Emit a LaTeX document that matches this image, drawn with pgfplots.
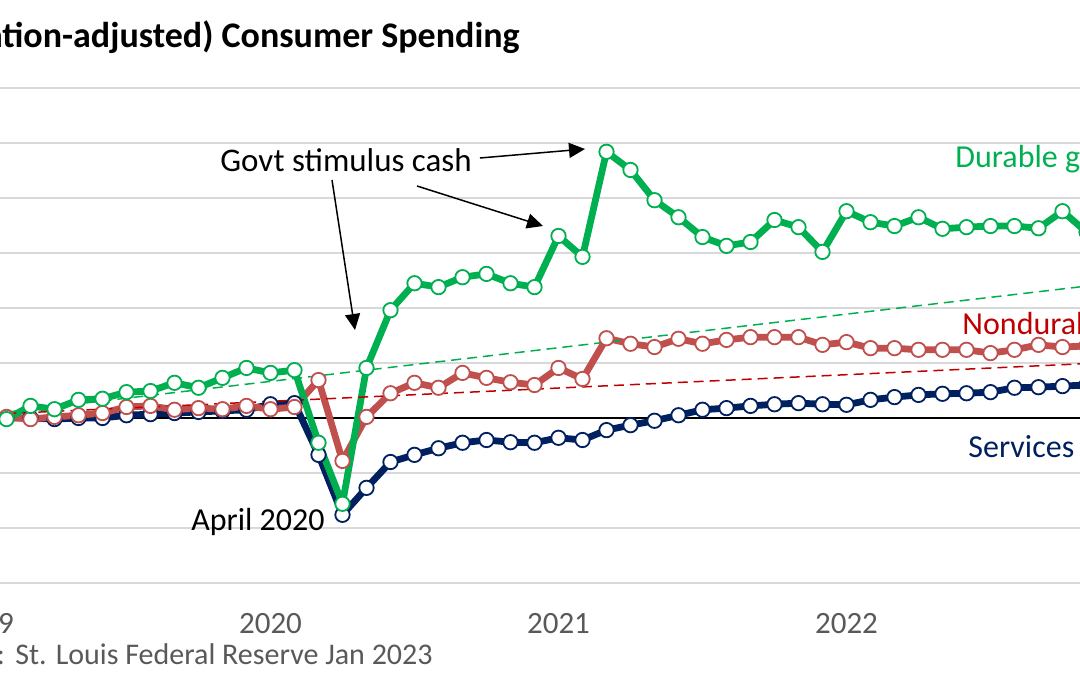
\documentclass[border=0pt]{standalone}
\usepackage{fontspec}
\setmainfont{Carlito}
\usepackage{pgfplots}
\pgfplotsset{compat=1.18}
\usepackage{pgfplotstable}
\usetikzlibrary{arrows.meta}
\definecolor{dgreen}{HTML}{00B050}
\definecolor{nred}{HTML}{C0504D}
\definecolor{dred}{HTML}{C00000}
\definecolor{navy}{HTML}{002060}
\definecolor{tickgray}{HTML}{595959}
\definecolor{gridgray}{HTML}{D9D9D9}

\pgfplotstableread{
m dur nond serv
-12 100.0 100.0 100.0
-11 99.8 100.2 100.0
-10 102.2 99.8 100.0
-9 101.6 100.2 99.8
-8 103.3 100.5 100.0
-7 103.5 100.9 100.0
-6 104.7 102.0 100.5
-5 104.9 102.2 100.7
-4 106.4 101.5 100.9
-3 105.5 101.8 101.1
-2 107.3 101.6 101.3
-1 109.1 102.2 101.5
0 108.2 101.6 102.5
1 108.7 102.0 102.7
2 95.5 106.9 93.3
3 84.4 92.2 82.4
4 109.1 100.2 87.3
5 119.6 104.5 92.0
6 124.5 106.4 93.3
7 123.8 105.5 94.5
8 125.6 108.2 95.5
9 126.2 107.3 96.0
10 124.5 106.5 95.6
11 123.8 106.0 95.5
12 133.1 109.1 96.4
13 129.3 107.1 96.0
14 148.4 114.5 97.8
15 145.1 113.5 98.7
16 139.6 112.9 99.5
17 136.5 114.4 100.5
18 132.9 113.5 101.5
19 131.3 114.2 101.8
20 132.0 114.7 102.2
21 136.0 114.7 102.5
22 134.7 114.7 102.7
23 130.2 113.3 102.5
24 137.6 113.8 102.4
25 135.6 112.7 103.3
26 134.9 112.7 103.8
27 136.5 112.4 104.2
28 134.4 112.4 104.4
29 134.7 112.4 104.5
30 134.9 111.8 104.7
31 134.9 112.4 105.5
32 134.5 113.3 105.6
33 137.6 112.9 105.8
34 133.8 113.1 106.0
35 135.1 112.9 106.2
}\spend

\begin{document}
\begin{tikzpicture}
\path[use as bounding box, clip] (0,0) rectangle (540pt,337.5pt);
\begin{axis}[
  at={(-20.75pt,46pt)}, anchor=south west,
  scale only axis, width=588pt, height=247.5pt,
  xmin=-13, xmax=36, ymin=70, ymax=160,
  axis line style={draw=none}, tick style={draw=none},
  ytick={70,80,...,160}, yticklabel=\empty,
  ymajorgrids, grid style={gridgray, line width=0.75pt},
  xtick={-12,0,12,24,36}, xticklabels={2019,2020,2021,2022,2023},
  xticklabel style={anchor=base, inner sep=0pt, yshift=-25pt, font=\fontsize{15.5}{17}\selectfont, text=tickgray},
  clip=true,
]
\addplot[black, line width=0.6pt] coordinates {(-13,100) (36,100)};
\addplot[navy, line width=3.4pt, mark=*, mark size=3.6pt, mark options={fill=white, draw=navy, line width=0.9pt}] table[x=m, y=serv] {\spend};
\addplot[nred, line width=3.4pt, mark=*, mark size=3.6pt, mark options={fill=white, draw=nred, line width=0.9pt}] table[x=m, y=nond] {\spend};
\addplot[dgreen, line width=3.4pt, mark=*, mark size=3.6pt, mark options={fill=white, draw=dgreen, line width=0.9pt}] table[x=m, y=dur] {\spend};
\addplot[dgreen, line width=0.75pt, dash pattern=on 5pt off 3pt] coordinates {(-13,100.04) (36,125.0)};
\addplot[dred, line width=0.75pt, dash pattern=on 5pt off 3pt] coordinates {(-13,100.4) (36,110.3)};
\end{axis}
\begin{scope}[every node/.style={inner sep=0pt}]
\node[anchor=base east, font=\fontsize{18}{21}\selectfont\bfseries] at (260pt,313.5pt) {Real (Inflation-adjusted) Consumer Spending};
\node[anchor=base east, font=\fontsize{15}{17}\selectfont, text=tickgray] at (2.6pt,5.5pt) {Source:};
\node[anchor=base west, font=\fontsize{15}{17}\selectfont, text=tickgray] at (7.5pt,5.5pt) {St. Louis Federal Reserve Jan 2023};
\node[anchor=base west, font=\fontsize{16.5}{19}\selectfont] at (110pt,251.5pt) {Govt stimulus cash};
\node[anchor=base east, font=\fontsize{16}{19}\selectfont] at (162.5pt,72.5pt) {April 2020};
\node[anchor=base west, font=\fontsize{16}{19}\selectfont, text=dgreen] at (477.5pt,253.5pt) {Durable goods};
\node[anchor=base west, font=\fontsize{16}{19}\selectfont, text=dred] at (481pt,170pt) {Nondurable goods};
\node[anchor=base west, font=\fontsize{16}{19}\selectfont, text=navy] at (484pt,109pt) {Services};
\end{scope}
\draw[line width=0.75pt, -{Triangle[length=8pt,width=7.5pt]}] (166pt,247.5pt) -- (177.5pt,172.5pt);
\draw[line width=0.75pt, -{Triangle[length=8pt,width=7.5pt]}] (208.5pt,244.5pt) -- (271.5pt,224.5pt);
\draw[line width=0.75pt, -{Triangle[length=8pt,width=7.5pt]}] (240pt,258.5pt) -- (292.5pt,263pt);
\end{tikzpicture}
\end{document}
